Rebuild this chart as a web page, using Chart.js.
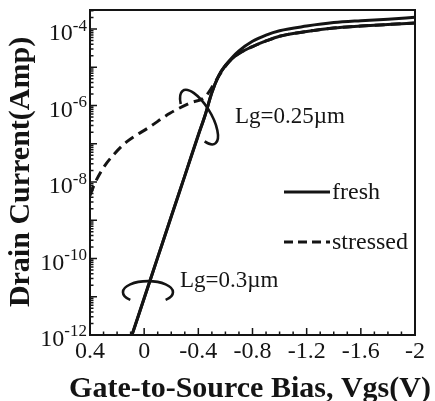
<!DOCTYPE html>
<html>
<head>
<meta charset="utf-8">
<script src="https://cdn.jsdelivr.net/npm/chart.js@4/dist/chart.umd.min.js"></script>
<style>
  body { margin: 0; background: #fff; }
  #wrap { width: 435px; height: 401px; }
</style>
</head>
<body>
<div id="wrap"><canvas id="ivChart" width="435" height="401"></canvas></div>
<script>
// Gate bias values (V) and drain currents (A)
const vgsFresh = [0.1, 0.0, -0.1, -0.2, -0.3, -0.4, -0.45, -0.5, -0.55, -0.6, -0.65, -0.7, -0.8, -0.9, -1.0, -1.2, -1.4, -1.6, -1.8, -2.0];
const idFreshUpper = [7.9e-13, 9.1e-12, 1.07e-10, 1.26e-9, 1.45e-8, 1.7e-7, 5.6e-7, 2.2e-6, 6.0e-6, 1.12e-5, 1.82e-5, 2.7e-5, 4.8e-5, 7.0e-5, 9.1e-5, 1.2e-4, 1.48e-4, 1.66e-4, 1.82e-4, 2.04e-4];
const idFreshLower = [7.9e-13, 9.1e-12, 1.07e-10, 1.26e-9, 1.45e-8, 1.7e-7, 5.6e-7, 2.2e-6, 6.0e-6, 1.12e-5, 1.7e-5, 2.3e-5, 3.5e-5, 4.9e-5, 6.5e-5, 8.7e-5, 1.07e-4, 1.2e-4, 1.32e-4, 1.45e-4];

const vgsStressed = [0.4, 0.36, 0.3, 0.23, 0.13, -0.04, -0.19, -0.34, -0.45, -0.51, -0.575, -0.65, -0.7, -0.8, -0.9, -1.0, -1.2, -1.4, -1.6, -1.8, -2.0];
const idStressed = [4.5e-9, 1.0e-8, 2.4e-8, 5.0e-8, 1.12e-7, 2.75e-7, 6.3e-7, 1.17e-6, 1.7e-6, 3.4e-6, 8.0e-6, 1.7e-5, 2.3e-5, 3.5e-5, 4.9e-5, 6.5e-5, 8.7e-5, 1.07e-4, 1.2e-4, 1.32e-4, 1.45e-4];

// Axis ticks
const xTickValues = [0.4, 0, -0.4, -0.8, -1.2, -1.6, -2];
const xTickLabels = ['0.4', '0', '-0.4', '-0.8', '-1.2', '-1.6', '-2'];
const yTickExponents = [-12, -10, -8, -6, -4];

// Annotations (data coordinates)
const notes = [
    { text: 'Lg=0.25\u00b5m', v: -0.67, i: 3.5e-7 },
    { text: 'Lg=0.3\u00b5m', v: -0.265, i: 1.8e-11 }
];
const loops = [
    { v: -0.405, i: 5.0e-7, rx: 31, ry: 12, rot: 1.03, a0: 2.3, a1: 6.98 },
    { v: -0.028, i: 1.32e-11, rx: 25, ry: 11, rot: 0, a0: 0.75 * Math.PI, a1: 2.25 * Math.PI }
];

const serif = "'Liberation Serif', 'Times New Roman', serif";
const ink = '#141414';

function toPoints(xs, ys) {
    return xs.map((x, k) => ({ x: x, y: ys[k] }));
}

const framePlugin = {
    id: 'frame',
    afterDatasetsDraw(chart) {
        const ctx = chart.ctx;
        const xs = chart.scales.x;
        const ys = chart.scales.y;
        const area = chart.chartArea;
        ctx.save();

        // loops around the curves
        ctx.strokeStyle = ink;
        ctx.lineWidth = 2.6;
        loops.forEach(l => {
            ctx.beginPath();
            ctx.ellipse(xs.getPixelForValue(l.v), ys.getPixelForValue(l.i), l.rx, l.ry, l.rot, l.a0, l.a1);
            ctx.stroke();
        });

        // box
        ctx.lineWidth = 2;
        ctx.strokeRect(area.left, area.top, area.right - area.left, area.bottom - area.top);

        // x ticks (inward)
        ctx.lineWidth = 1.5;
        ctx.beginPath();
        for (let k = 0; k <= 24; k++) {
            const v = 0.4 - k * 0.1;
            const px = xs.getPixelForValue(v);
            const len = (k % 4 === 0) ? 7 : 3.5;
            ctx.moveTo(px, area.bottom);
            ctx.lineTo(px, area.bottom - len);
        }
        // y ticks (inward)
        for (let e = -12; e <= -4; e++) {
            for (let m = 1; m <= 9; m++) {
                const val = m * Math.pow(10, e);
                if (val > ys.max) break;
                const py = ys.getPixelForValue(val);
                const len = (m === 1) ? 7 : 3.5;
                ctx.moveTo(area.left, py);
                ctx.lineTo(area.left + len, py);
            }
        }
        ctx.stroke();

        // x tick labels
        ctx.fillStyle = ink;
        ctx.font = '24px ' + serif;
        ctx.textAlign = 'center';
        ctx.textBaseline = 'middle';
        xTickValues.forEach((v, k) => {
            ctx.fillText(xTickLabels[k], xs.getPixelForValue(v), area.bottom + 17);
        });

        // y tick labels 10^n
        yTickExponents.forEach(e => {
            const py = ys.getPixelForValue(Math.pow(10, e));
            const sup = '-' + Math.abs(e);
            ctx.font = '17px ' + serif;
            const sw = ctx.measureText(sup).width;
            ctx.textAlign = 'right';
            ctx.fillText(sup, 87, py - 3);
            ctx.font = '24px ' + serif;
            ctx.fillText('10', 87 - sw, py + 5);
        });

        // annotation text
        ctx.font = '23px ' + serif;
        ctx.textAlign = 'left';
        ctx.textBaseline = 'alphabetic';
        notes.forEach(n => {
            ctx.fillText(n.text, xs.getPixelForValue(n.v), ys.getPixelForValue(n.i));
        });

        // legend
        const legendRows = [
            { label: chart.data.datasets[0].label, dash: [], y: 192 },
            { label: chart.data.datasets[2].label, dash: [9, 5], y: 242 }
        ];
        legendRows.forEach(r => {
            ctx.setLineDash(r.dash);
            ctx.lineWidth = 3;
            ctx.beginPath();
            ctx.moveTo(284, r.y);
            ctx.lineTo(330, r.y);
            ctx.stroke();
            ctx.setLineDash([]);
            ctx.font = '24px ' + serif;
            ctx.textBaseline = 'middle';
            ctx.fillText(r.label, 332, r.y + 1);
        });

        // axis titles
        ctx.font = 'bold 30px ' + serif;
        ctx.textAlign = 'center';
        ctx.textBaseline = 'alphabetic';
        ctx.fillText('Gate-to-Source Bias, Vgs(V)', 250, 397);
        ctx.translate(29, 172);
        ctx.rotate(-Math.PI / 2);
        ctx.fillText('Drain Current(Amp)', 0, 0);

        ctx.restore();
    }
};

const ivChart = new Chart(document.getElementById('ivChart').getContext('2d'), {
    type: 'line',
    data: {
        datasets: [
            {
                label: 'fresh',
                data: toPoints(vgsFresh, idFreshUpper),
                borderColor: ink,
                borderWidth: 3,
                pointRadius: 0,
                cubicInterpolationMode: 'monotone',
                clip: 0
            },
            {
                label: 'fresh (2)',
                data: toPoints(vgsFresh, idFreshLower),
                borderColor: ink,
                borderWidth: 3,
                pointRadius: 0,
                cubicInterpolationMode: 'monotone',
                clip: 0
            },
            {
                label: 'stressed',
                data: toPoints(vgsStressed, idStressed),
                borderColor: ink,
                borderWidth: 3,
                borderDash: [10, 6],
                pointRadius: 0,
                cubicInterpolationMode: 'monotone',
                clip: 0
            }
        ]
    },
    options: {
        responsive: false,
        animation: false,
        events: [],
        layout: { padding: { left: 90, right: 20, top: 10, bottom: 66 } },
        plugins: {
            legend: { display: false },
            tooltip: { enabled: false }
        },
        scales: {
            x: { type: 'linear', min: -2, max: 0.4, reverse: true, display: false },
            y: { type: 'logarithmic', min: 1e-12, max: 3.16e-4, display: false }
        }
    },
    plugins: [framePlugin]
});
</script>
</body>
</html>
